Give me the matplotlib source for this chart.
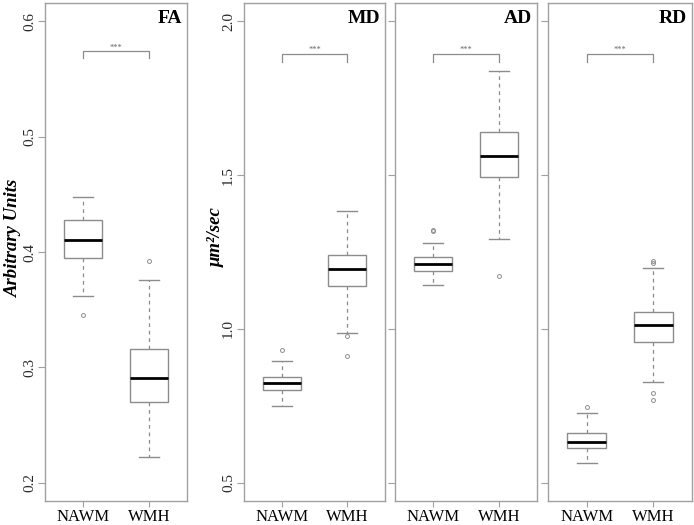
import matplotlib
matplotlib.use("Agg")
import matplotlib.pyplot as plt

plt.rcParams['font.family'] = ['Liberation Serif', 'DejaVu Serif']

groups = ["NAWM", "WMH"]
panels = ["FA", "MD", "AD", "RD"]

# per panel: (whislo, q1, med, q3, whishi) for NAWM then WMH
fa_stats = [(0.362, 0.395, 0.410, 0.428, 0.448), (0.222, 0.270, 0.291, 0.316, 0.376)]
fa_fliers = [[0.345], [0.392]]
md_stats = [(0.750, 0.802, 0.824, 0.845, 0.894), (0.986, 1.140, 1.194, 1.239, 1.383)]
md_fliers = [[0.932], [0.977, 0.913]]
ad_stats = [(1.143, 1.187, 1.211, 1.233, 1.280), (1.293, 1.494, 1.561, 1.639, 1.840)]
ad_fliers = [[1.318, 1.322], [1.172]]
rd_stats = [(0.562, 0.612, 0.632, 0.660, 0.726), (0.826, 0.956, 1.012, 1.055, 1.198)]
rd_fliers = [[0.746], [1.222, 1.214, 0.791, 0.770]]

fa_ticks = [0.2, 0.3, 0.4, 0.5, 0.6]
diff_ticks = [0.5, 1.0, 1.5, 2.0]
bracket = {"FA": 0.574, "MD": 1.893, "AD": 1.893, "RD": 1.893}

all_stats = [fa_stats, md_stats, ad_stats, rd_stats]
all_fliers = [fa_fliers, md_fliers, ad_fliers, rd_fliers]

W, H = 694, 525
fig = plt.figure(figsize=(W / 100, H / 100), dpi=100)
boxes_px = [(45, 187), (244, 385), (395, 537), (548, 692)]
top_px, bot_px = 3, 501

grey = "#8c8c8c"
frame = "#a0a0a0"

for i, name in enumerate(panels):
    l, r = boxes_px[i]
    ax = fig.add_axes([l / W, 1 - bot_px / H, (r - l) / W, (bot_px - top_px) / H])
    stats = []
    for (lo, q1, med, q3, hi), fl in zip(all_stats[i], all_fliers[i]):
        stats.append(dict(whislo=lo, q1=q1, med=med, q3=q3, whishi=hi, fliers=fl))
    ax.bxp(stats, positions=[1, 2], widths=0.58, patch_artist=True,
           boxprops=dict(facecolor="white", edgecolor=grey, linewidth=1.0),
           medianprops=dict(color="black", linewidth=2.0),
           whiskerprops=dict(color=grey, linestyle=(0, (3, 3)), linewidth=0.9),
           capprops=dict(color=grey, linewidth=1.0),
           flierprops=dict(marker="o", markersize=2.8, markerfacecolor="none",
                           markeredgecolor=grey, markeredgewidth=0.7),
           capwidths=0.3)
    ax.set_xlim(0.42, 2.58)
    if name == "FA":
        ax.set_ylim(0.184, 0.616)
        ax.set_yticks(fa_ticks)
        ax.set_yticklabels([f"{t:.1f}" for t in fa_ticks])
        lo_ext = 0.006
    else:
        ax.set_ylim(0.44, 2.06)
        ax.set_yticks(diff_ticks)
        ax.set_yticklabels([f"{t:.1f}" for t in diff_ticks])
        lo_ext = 0.026
    ax.set_xticks([1, 2])
    ax.set_xticklabels(groups, fontsize=12, color="black")
    ax.tick_params(axis="x", length=4, color=frame, pad=1.5)
    ax.tick_params(axis="y", length=5, color=frame, pad=1.5, labelsize=11,
                   labelcolor="#2a2a2a")
    for lab in ax.get_yticklabels():
        lab.set_rotation(90)
        lab.set_va("center")
    if name not in ("FA", "MD"):
        ax.set_yticklabels([])
    for s in ax.spines.values():
        s.set_color(frame)
        s.set_linewidth(1.0)

    # significance bracket
    yb = bracket[name]
    ax.plot([1, 1, 2, 2], [yb - lo_ext, yb, yb, yb - lo_ext], color=grey, linewidth=0.9)
    ax.text(1.5, yb, "***", ha="center", va="bottom", fontsize=6, color="#666666")

    ax.text(0.965, 0.985, name, transform=ax.transAxes, ha="right", va="top",
            fontsize=14, fontweight="bold", color="black")

fig.text(13 / W, 1 - 238 / H, "Arbitrary Units", rotation=90, ha="center",
         va="center", fontsize=13.5, fontweight="bold", fontstyle="italic")
fig.text(216 / W, 1 - 237 / H, "μm²/sec", rotation=90, ha="center",
         va="center", fontsize=13.5, fontweight="bold", fontstyle="italic")

fig.savefig("out.png", dpi=100)
